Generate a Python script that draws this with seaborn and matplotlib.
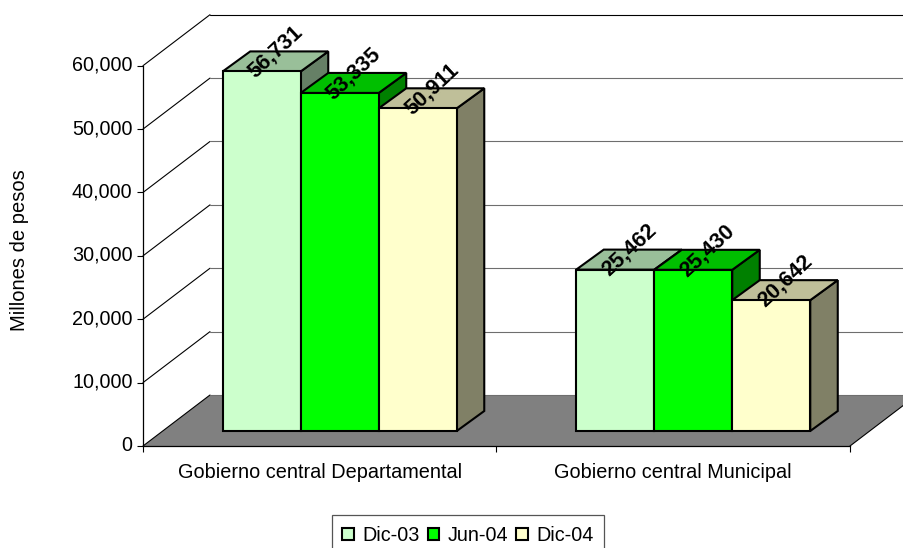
import matplotlib
matplotlib.use("Agg")
import matplotlib.pyplot as plt
from matplotlib.transforms import ScaledTranslation
import pandas as pd
import seaborn as sns

sectores = ["Gobierno central Departamental", "Gobierno central Municipal"]
periodos = ["Dic-03", "Jun-04", "Dic-04"]
dic_03 = [56731, 25462]
jun_04 = [53335, 25430]
dic_04 = [50911, 20642]
y_ticks = [0, 10000, 20000, 30000, 40000, 50000, 60000]

front_colors = ["#CCFFCC", "#00FF00", "#FFFFCC"]
top_colors = ["#99BF99", "#00BF00", "#BFBF99"]
side_colors = ["#668066", "#008000", "#808066"]

sns.set_style("white")
plt.rcParams["font.family"] = ["Liberation Sans", "DejaVu Sans"]
plt.rcParams["text.color"] = "black"

df = pd.DataFrame({
    "sector": sectores * 3,
    "periodo": [p for p in periodos for _ in sectores],
    "valor": dic_03 + jun_04 + dic_04,
})

W, H = 904, 548
fig = plt.figure(figsize=(W / 100, H / 100), dpi=100)
ax = fig.add_axes([143 / W, 1 - 446 / H, 707 / W, 380.3 / H])

sns.barplot(data=df, x="sector", y="valor", hue="periodo", hue_order=periodos,
            palette=front_colors, width=0.662, gap=0, saturation=1,
            edgecolor="black", linewidth=1.5, ax=ax)
ax.set_xlim(-0.5, 1.5)
ax.set_ylim(0, 60000)

# pixels to data units, for the fake 3d depth
px_x = 2 / 707
px_y = 60000 / 380.3
wall_dx, wall_dy = 67 * px_x, 51 * px_y
bar_off_x, bar_off_y = 20 * px_x, 15 * px_y
bar_dx, bar_dy = 27.5 * px_x, 20 * px_y

# floor and back wall
ax.fill([-0.5, -0.5 + wall_dx, 1.5 + wall_dx, 1.5],
        [0, wall_dy, wall_dy, 0],
        color="#808080", lw=0, zorder=1, clip_on=False)
for t in y_ticks:
    ax.plot([-0.5, -0.5 + wall_dx], [t, t + wall_dy], color="black", lw=0.8,
            zorder=1.5, clip_on=False)
    ax.plot([-0.5 + wall_dx, 1.5 + wall_dx], [t + wall_dy, t + wall_dy],
            color="black" if t == y_ticks[-1] else "#6e6e6e", lw=0.8,
            zorder=1.5, clip_on=False)
ax.plot([1.5, 1.5 + wall_dx], [0, wall_dy], color="black", lw=0.8,
        zorder=1.5, clip_on=False)

# side and top of each bar, front faces moved onto the floor
for i, cont in enumerate(ax.containers):
    for bar in cont:
        h = bar.get_height()
        x0 = bar.get_x() + bar_off_x
        w = bar.get_width()
        bar.set_x(x0)
        bar.set_y(bar_off_y)
        bar.set_zorder(4 + i + 0.5)
        bar.set_clip_on(False)
        y0 = bar_off_y
        y1 = y0 + h
        x1 = x0 + w
        ax.fill([x1, x1 + bar_dx, x1 + bar_dx, x1],
                [y0, y0 + bar_dy, y1 + bar_dy, y1],
                facecolor=side_colors[i], edgecolor="black", lw=1.5,
                zorder=4 + i, clip_on=False, joinstyle="miter")
        ax.fill([x0, x0 + bar_dx, x1 + bar_dx, x1],
                [y1, y1 + bar_dy, y1 + bar_dy, y1],
                facecolor=top_colors[i], edgecolor="black", lw=1.5,
                zorder=4 + i, clip_on=False, joinstyle="miter")
        ax.annotate(f"{int(h):,}", xy=(x0 + w / 2, y1), xytext=(10, 14),
                    textcoords="offset points", rotation=43,
                    rotation_mode="anchor", ha="center", va="center",
                    fontsize=15.6, fontweight="bold", color="black", zorder=20,
                    annotation_clip=False)

# axes
sns.despine(ax=ax, top=True, right=True)
for s in ["left", "bottom"]:
    ax.spines[s].set_color("black")
    ax.spines[s].set_linewidth(0.9)
    ax.spines[s].set_zorder(3)
ax.set_yticks(y_ticks)
ax.set_yticklabels([f"{t:,}" for t in y_ticks], fontsize=14.2, color="black")
ax.tick_params(axis="y", left=True, length=4, width=0.8, color="black", pad=3.5)
up = ScaledTranslation(0, 2.5 / 100, fig.dpi_scale_trans)
for lab in ax.get_yticklabels():
    lab.set_transform(lab.get_transform() + up)
ax.set_xticks([0, 1])
ax.set_xticklabels(sectores, fontsize=14.3, color="black")
ax.set_xticks([-0.5, 0.5, 1.5], minor=True)
ax.tick_params(axis="x", which="major", bottom=False, pad=8.5)
ax.tick_params(axis="x", which="minor", bottom=True, length=4, width=0.8,
               color="black")
ax.set_xlabel("")
ax.set_ylabel("")
fig.text(20 / W, 1 - 250 / H, "Millones de pesos", rotation=90, ha="center",
         va="center", fontsize=14.5, color="black")

handles, labels = ax.get_legend_handles_labels()
leg = ax.legend(handles, labels, ncols=3, loc="upper center",
                bbox_to_anchor=(468 / W, 1 - 515 / H),
                bbox_transform=fig.transFigure, fontsize=14.2, frameon=True,
                fancybox=False, framealpha=1, edgecolor="#555555",
                handlelength=0.58, handleheight=0.58, handletextpad=0.42,
                columnspacing=0.42, borderaxespad=0, borderpad=0.55,
                title=None)
leg.set_zorder(30)
leg.get_frame().set_linewidth(0.9)
for patch in leg.get_patches():
    patch.set_linewidth(1.5)
    patch.set_edgecolor("black")

fig.savefig("out.png", dpi=100)
